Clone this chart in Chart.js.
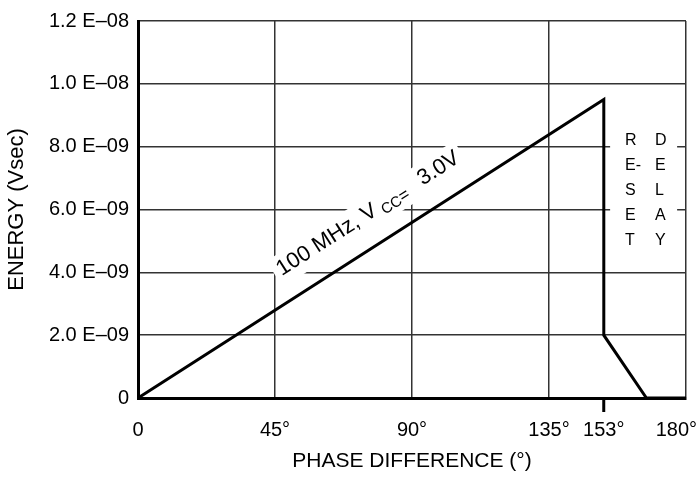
<!DOCTYPE html>
<html lang="en">
<head>
  <meta charset="UTF-8">
  <title>Energy vs Phase Difference</title>
  <style>
    html, body { margin: 0; padding: 0; background: #fff; }
    #wrap { width: 698px; height: 478px; }
  </style>
</head>
<body>
  <div id="wrap"><canvas id="grafico"></canvas></div>

  <script src="https://cdn.jsdelivr.net/npm/chart.js"></script>
  <script>
    // curva: diferenca de fase (graus) x energia (Vsec)
    var fase = [0, 153, 153, 167, 180];
    var energia = [0, 9.5e-9, 2e-9, 0, 0];

    var xTicks = [0, 45, 90, 135, 153, 180];
    var xLabels = ['0', '45°', '90°', '135°', '153°', '180°'];
    var yTicks = [0, 2e-9, 4e-9, 6e-9, 8e-9, 1e-8, 1.2e-8];
    var yLabels = ['0', '2.0 E–09', '4.0 E–09', '6.0 E–09', '8.0 E–09', '1.0 E–08', '1.2 E–08'];

    var rotulo = ['100 MHz, V', 'CC', '=', '3.0V'];
    var resetTxt = ['R', 'E-', 'S', 'E', 'T'];
    var delayTxt = ['D', 'E', 'L', 'A', 'Y'];

    var fonte = '"Liberation Sans", Arial, Helvetica, sans-serif';
    Chart.defaults.font.family = fonte;
    Chart.defaults.color = '#000';

    const anotacoes = {
      id: 'anotacoes',
      beforeDatasetsDraw(chart) {
        const ctx = chart.ctx;
        const sx = chart.scales.x, sy = chart.scales.y;

        // texto inclinado ao longo da rampa
        const x0 = sx.getPixelForValue(fase[0]), y0 = sy.getPixelForValue(energia[0]);
        const x1 = sx.getPixelForValue(fase[1]), y1 = sy.getPixelForValue(energia[1]);
        const ang = Math.atan2(y0 - y1, x1 - x0);
        const t = 50 / 153;
        const ax = x0 + (x1 - x0) * t, ay = y0 + (y1 - y0) * t;

        ctx.save();
        ctx.translate(ax, ay);
        ctx.rotate(-ang);
        ctx.textBaseline = 'alphabetic';
        ctx.textAlign = 'left';
        ctx.font = '22px ' + fonte;
        const w1 = ctx.measureText(rotulo[0]).width;
        const w4 = ctx.measureText(rotulo[3]).width;
        ctx.font = '15px ' + fonte;
        const w2 = ctx.measureText(rotulo[1]).width;
        ctx.font = '17px ' + fonte;
        const w3 = ctx.measureText(rotulo[2]).width;
        const base = -25, ini = 6;
        const pCC = ini + w1 + 5;
        const pIg = pCC + w2;
        const p3 = pIg + w3 + 16;
        ctx.fillStyle = '#fff';
        ctx.fillRect(ini - 5, base - 21, p3 + w4 - ini + 10, 31);
        ctx.fillStyle = '#000';
        ctx.font = '22px ' + fonte;
        ctx.fillText(rotulo[0], ini, base);
        ctx.fillText(rotulo[3], p3, base);
        ctx.font = '15px ' + fonte;
        ctx.fillText(rotulo[1], pCC, base + 4);
        ctx.font = '17px ' + fonte;
        ctx.fillText(rotulo[2], pIg, base + 3);
        ctx.restore();

        // RESET DELAY
        const cx = sx.getPixelForValue(160);
        const cy = sy.getPixelForValue(8.2e-9);
        const passo = 25, col = 30;
        ctx.save();
        ctx.fillStyle = '#fff';
        ctx.fillRect(cx - 15, cy - 15, col + 37, passo * 4 + 30);
        ctx.fillStyle = '#000';
        ctx.font = '16px ' + fonte;
        ctx.textAlign = 'left';
        ctx.textBaseline = 'middle';
        resetTxt.forEach((l, i) => ctx.fillText(l, cx, cy + i * passo));
        delayTxt.forEach((l, i) => ctx.fillText(l, cx + col, cy + i * passo));
        ctx.restore();
      },
      afterDraw(chart) {
        // rotulos do eixo x (o ultimo fica dentro da tela)
        const ctx = chart.ctx;
        const sx = chart.scales.x;
        ctx.save();
        ctx.font = '20px ' + fonte;
        ctx.fillStyle = '#000';
        ctx.textAlign = 'center';
        ctx.textBaseline = 'middle';
        xTicks.forEach((v, i) => {
          const w = ctx.measureText(xLabels[i]).width;
          let px = sx.getPixelForValue(v);
          px = Math.min(px, chart.width - 1 - w / 2);
          ctx.fillText(xLabels[i], px, sx.top + 32);
        });
        ctx.restore();
      }
    };

    const ctx = document.getElementById('grafico').getContext('2d');
    new Chart(ctx, {
      type: 'line',
      data: {
        datasets: [{
          data: fase.map((v, i) => ({ x: v, y: energia[i] })),
          borderColor: '#000',
          borderWidth: 3,
          pointRadius: 0,
          fill: false,
          tension: 0
        }]
      },
      options: {
        responsive: true,
        maintainAspectRatio: false,
        animation: false,
        layout: { padding: { top: 14, right: 12, left: 0, bottom: 0 } },
        plugins: {
          legend: { display: false },
          tooltip: { enabled: false }
        },
        scales: {
          x: {
            type: 'linear',
            min: 0,
            max: 180,
            afterBuildTicks: s => { s.ticks = xTicks.map(v => ({ value: v })); },
            afterFit: s => { s.paddingRight = 0; s.paddingLeft = 0; s.height = 80; },
            ticks: { display: false },
            grid: {
              color: c => (c.tick && c.tick.value === 153) ? 'rgba(0,0,0,0)' : '#333',
              lineWidth: 1.5,
              drawTicks: true,
              tickLength: 14,
              tickWidth: 3,
              tickColor: c => (c.tick && c.tick.value === 153) ? '#000' : 'rgba(0,0,0,0)'
            },
            border: { display: true, color: '#000', width: 3 },
            title: {
              display: true,
              text: 'PHASE DIFFERENCE (°)',
              font: { size: 21 },
              padding: { top: 0, bottom: 4 }
            }
          },
          y: {
            min: 0,
            max: 1.2e-8,
            afterBuildTicks: s => { s.ticks = yTicks.map(v => ({ value: v })); },
            afterFit: s => { s.width = 138; },
            ticks: {
              callback: (v, i) => yLabels[i],
              font: { size: 20 },
              padding: 9
            },
            grid: { color: '#333', lineWidth: 1.5, drawTicks: false },
            border: { display: true, color: '#000', width: 3 },
            title: {
              display: true,
              text: 'ENERGY (Vsec)',
              font: { size: 22 },
              padding: { top: 4, bottom: 0 }
            }
          }
        }
      },
      plugins: [anotacoes]
    });
  </script>
</body>
</html>
